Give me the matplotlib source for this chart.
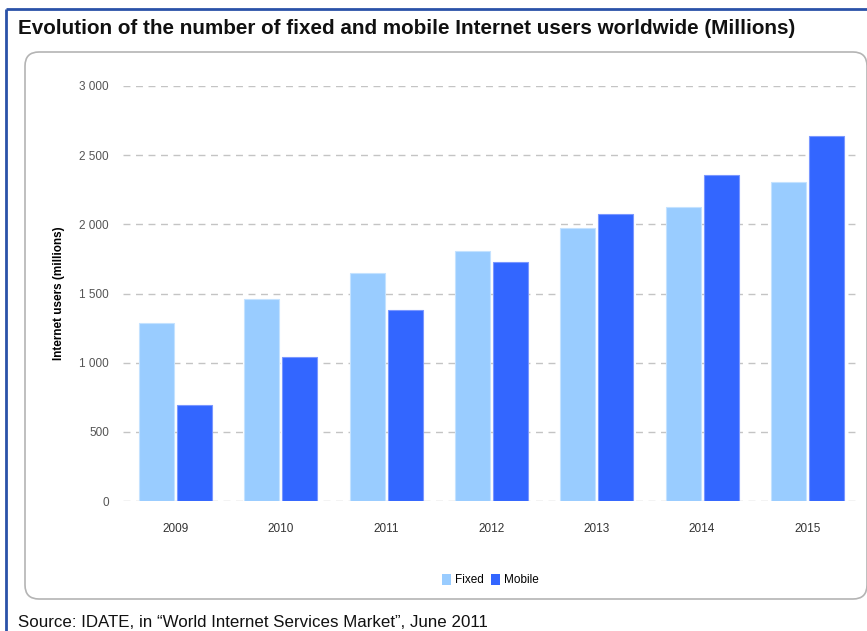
import numpy as np
import matplotlib; matplotlib.use("Agg")
import matplotlib.pyplot as plt
from matplotlib.patches import FancyBboxPatch, Patch

years = ["2009", "2010", "2011", "2012", "2013", "2014", "2015"]
fixed = [1284, 1460, 1645, 1808, 1972, 2128, 2305]
mobile = [691, 1043, 1378, 1729, 2072, 2360, 2637]
yticks = [0, 500, 1000, 1500, 2000, 2500, 3000]

W, H = 867, 631
fig = plt.figure(figsize=(W / 100, H / 100), dpi=100)
fig.patch.set_facecolor("white")

# background layer in pixel units (y down): frame, rounded panel, title, source
bg = fig.add_axes([0, 0, 1, 1])
bg.set_xlim(0, W); bg.set_ylim(H, 0); bg.axis("off")
bg.plot([6, 6], [9, H], color="#2a52a8", lw=2.0, solid_capstyle="butt")
bg.plot([6, W], [9, 9], color="#2a52a8", lw=2.0, solid_capstyle="butt")
bg.add_patch(FancyBboxPatch((25, 52), 842, 547, boxstyle="round,pad=0,rounding_size=14",
                            fc="white", ec="#b4b4b4", lw=1.2))
bg.text(18, 29, "Evolution of the number of fixed and mobile Internet users worldwide (Millions)",
        fontsize=14.9, fontweight="bold", family="Liberation Sans", va="center", ha="left",
        color="#111111")
bg.text(18, 615, "Source: IDATE, in \u201cWorld Internet Services Market\u201d, June 2011",
        fontsize=12.2, family="Liberation Sans", va="top", ha="left", color="#111111")

ax = fig.add_axes([123 / W, 130 / H, 737 / W, 415 / H])
ax.patch.set_alpha(0)
x = np.arange(len(years))
bw = 0.332
ax.bar(x - 0.18, fixed, bw, color="#99ccff", edgecolor="#c4e2ff", lw=0.8, zorder=3)
ax.bar(x + 0.18, mobile, bw, color="#3366ff", edgecolor="#7a97ff", lw=0.8, zorder=3)
ax.set_xlim(-0.5, len(years) - 0.5)
ax.set_ylim(0, 3000)
ax.set_yticks(yticks)
ax.set_yticklabels([f"{v:,}".replace(",", " ") for v in yticks], fontsize=8.5,
                   family="Liberation Sans", color="#555555")
ax.set_xticks(x)
ax.set_xticklabels(years, fontsize=8.5, family="Liberation Sans", color="#333333")
ax.tick_params(length=0)
ax.tick_params(axis="y", pad=10)
ax.tick_params(axis="x", pad=16)
ax.grid(axis="y", color="#c4c4c4", ls=(0, (5, 4)), lw=1.0, zorder=0)
for s in ax.spines.values():
    s.set_visible(False)
ax.set_ylabel("Internet users (millions)", fontsize=8.5, fontweight="bold",
              family="Liberation Sans", labelpad=10)

handles = [Patch(fc="#99ccff", ec="none", label="Fixed"), Patch(fc="#3366ff", ec="none", label="Mobile")]
fig.legend(handles=handles, loc="center", bbox_to_anchor=(490 / W, 1 - 580 / H), ncol=2,
           frameon=False, handlelength=0.8, handleheight=1.1,
           handletextpad=0.3, columnspacing=0.6, prop={"family": "Liberation Sans", "size": 8.5})

fig.savefig("out.png", dpi=100)
